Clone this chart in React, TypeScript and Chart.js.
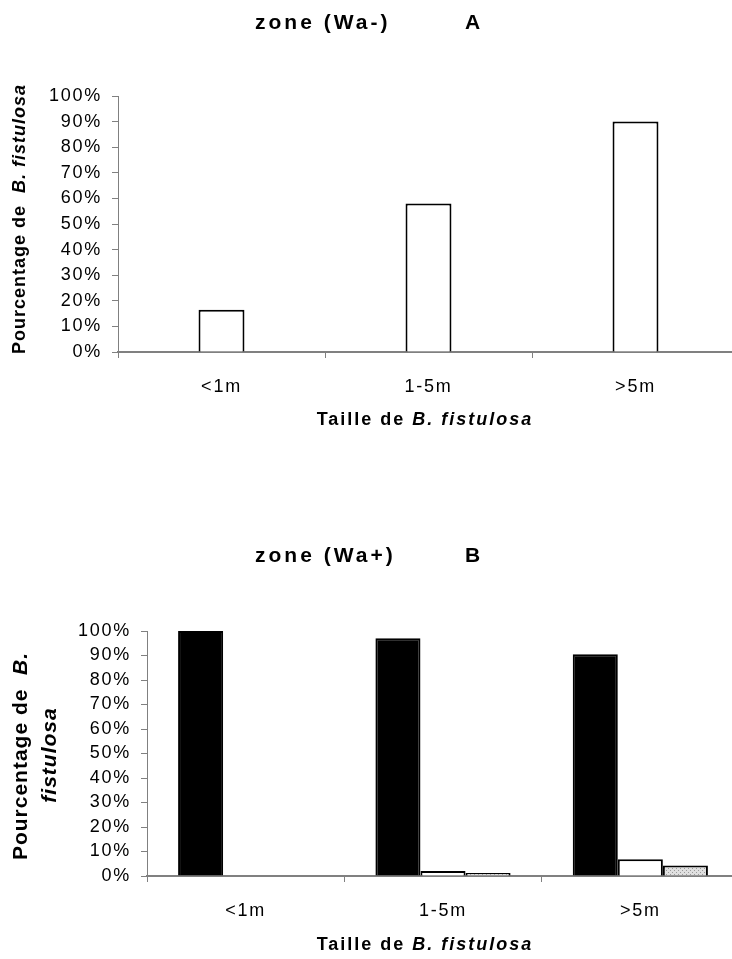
import React, { useEffect, useRef } from 'react';
import { Chart, registerables } from 'chart.js';

Chart.register(...registerables);

// ---------- data ----------
const categories = ['<1m', '1-5m', '>5m'];
const valuesA = [16.5, 58, 90];
const valuesB_black = [100, 97, 90.5];
const valuesB_white = [0, 2, 6.8];
const valuesB_dotted = [0, 1.2, 4.3];
const yTickValues = [0, 10, 20, 30, 40, 50, 60, 70, 80, 90, 100];
const yTickLabels = ['0%', '10%', '20%', '30%', '40%', '50%', '60%', '70%', '80%', '90%', '100%'];

const titleA = 'zone (Wa-)';
const letterA = 'A';
const titleB = 'zone (Wa+)';
const letterB = 'B';

const FAMILY = '"Liberation Sans", Arial, Helvetica, sans-serif';
Chart.defaults.font.family = FAMILY;

type Part = { text: string; font: string };
type TextItem = { parts: Part[]; x: number; y: number; rotate?: boolean; align?: 'center' | 'left'; ls?: string };

function drawItems(ctx: CanvasRenderingContext2D, items: TextItem[]) {
  items.forEach((it) => {
    ctx.save();
    (ctx as any).letterSpacing = it.ls || '0px';
    ctx.translate(it.x, it.y);
    if (it.rotate) ctx.rotate(-Math.PI / 2);
    ctx.textBaseline = 'middle';
    ctx.textAlign = 'left';
    ctx.fillStyle = '#000';
    let total = 0;
    it.parts.forEach((p) => {
      ctx.font = p.font;
      total += ctx.measureText(p.text).width;
    });
    let cx = it.align === 'left' ? 0 : -total / 2;
    it.parts.forEach((p) => {
      ctx.font = p.font;
      ctx.fillText(p.text, cx, 0);
      cx += ctx.measureText(p.text).width;
    });
    ctx.restore();
  });
}

function dottedPattern(): CanvasPattern | string {
  const c = document.createElement('canvas');
  c.width = 4;
  c.height = 4;
  const g = c.getContext('2d');
  if (!g) return '#c8c8c8';
  g.fillStyle = '#e0e0e0';
  g.fillRect(0, 0, 4, 4);
  g.fillStyle = '#9a9a9a';
  g.fillRect(0, 0, 1, 1);
  g.fillRect(2, 2, 1, 1);
  const p = g.createPattern(c, 'repeat');
  return p || '#c8c8c8';
}

const B = (s: number) => `bold ${s}px ${FAMILY}`;
const BI = (s: number) => `italic bold ${s}px ${FAMILY}`;
const TICK_FONT = { size: 18, family: FAMILY };
const TICK_SPACING = '1.75px';

function axes(yWidth: number, xHeight: number) {
  return {
    x: {
      grid: { offset: true, drawOnChartArea: false, drawTicks: true, tickLength: 6, color: '#808080', lineWidth: 1 },
      border: { display: true, color: '#808080', width: 2 },
      ticks: { padding: 18, color: '#000', font: TICK_FONT, maxRotation: 0, autoSkip: false },
      afterFit: (s: any) => {
        s.height = xHeight;
      },
    },
    y: {
      min: 0,
      max: 100,
      afterBuildTicks: (s: any) => {
        s.ticks = yTickValues.map((v) => ({ value: v }));
      },
      grid: { drawOnChartArea: false, drawTicks: true, tickLength: 6, color: '#808080', lineWidth: 1 },
      border: { display: true, color: '#808080', width: 1 },
      ticks: {
        padding: 10,
        autoSkip: false,
        color: '#000',
        font: TICK_FONT,
        callback: (v: any) => yTickLabels[yTickValues.indexOf(Number(v))] ?? '',
      },
      afterFit: (s: any) => {
        s.width = yWidth;
      },
    },
  };
}

function textPlugin(id: string, texts: TextItem[]) {
  return {
    id,
    beforeDraw: (c: any) => {
      c.ctx.letterSpacing = TICK_SPACING;
    },
    afterDraw: (c: any) => {
      drawItems(c.ctx, texts);
      c.ctx.letterSpacing = '0px';
    },
  };
}

function ChartA() {
  const ref = useRef<HTMLCanvasElement | null>(null);
  useEffect(() => {
    if (!ref.current) return;
    const texts: TextItem[] = [
      { parts: [{ text: titleA, font: B(21) }], x: 255, y: 23, align: 'left', ls: '3px' },
      { parts: [{ text: letterA, font: B(21) }], x: 465, y: 23, align: 'left', ls: '3px' },
      {
        parts: [
          { text: 'Pourcentage de  ', font: B(18) },
          { text: 'B. fistulosa', font: BI(18) },
        ],
        x: 20,
        y: 219,
        rotate: true,
        ls: '1px',
      },
      {
        parts: [
          { text: 'Taille de ', font: B(18) },
          { text: 'B. fistulosa', font: BI(18) },
        ],
        x: 425,
        y: 420,
        ls: '2px',
      },
    ];
    const chart = new Chart(ref.current, {
      type: 'bar',
      data: {
        labels: categories,
        datasets: [
          {
            data: valuesA,
            backgroundColor: '#ffffff',
            borderColor: '#000000',
            borderWidth: 2,
            categoryPercentage: 1,
            barPercentage: 0.222,
          },
        ],
      },
      options: {
        responsive: false,
        animation: false,
        layout: { padding: { top: 96, right: 6, left: 0, bottom: 0 } },
        plugins: { legend: { display: false }, tooltip: { enabled: false }, title: { display: false } },
        scales: axes(118, 128) as any,
      },
      plugins: [textPlugin('textsA', texts)],
    });
    return () => chart.destroy();
  }, []);
  return (
    <canvas
      ref={ref}
      width={745}
      height={480}
      style={{ position: 'absolute', left: 0, top: 0, width: 745, height: 480 }}
    />
  );
}

function ChartB() {
  const ref = useRef<HTMLCanvasElement | null>(null);
  useEffect(() => {
    if (!ref.current) return;
    const texts: TextItem[] = [
      { parts: [{ text: titleB, font: B(21) }], x: 255, y: 76, align: 'left', ls: '3px' },
      { parts: [{ text: letterB, font: B(21) }], x: 465, y: 76, align: 'left', ls: '3px' },
      {
        parts: [
          { text: 'Pourcentage de  ', font: B(21) },
          { text: 'B.', font: BI(21) },
        ],
        x: 21,
        y: 276,
        rotate: true,
        ls: '1px',
      },
      { parts: [{ text: 'fistulosa', font: BI(21) }], x: 50, y: 275, rotate: true, ls: '1px' },
      {
        parts: [
          { text: 'Taille de ', font: B(18) },
          { text: 'B. fistulosa', font: BI(18) },
        ],
        x: 425,
        y: 465,
        ls: '2px',
      },
    ];
    const common = { borderColor: '#000000', borderWidth: 2, categoryPercentage: 0.685, barPercentage: 1 };
    const chart = new Chart(ref.current, {
      type: 'bar',
      data: {
        labels: categories,
        datasets: [
          { data: valuesB_black, backgroundColor: '#000000', ...common },
          { data: valuesB_white, backgroundColor: '#ffffff', ...common },
          { data: valuesB_dotted, backgroundColor: dottedPattern() as any, ...common },
        ],
      },
      options: {
        responsive: false,
        animation: false,
        layout: { padding: { top: 151, right: 6, left: 0, bottom: 0 } },
        plugins: { legend: { display: false }, tooltip: { enabled: false }, title: { display: false } },
        scales: axes(147, 83) as any,
      },
      plugins: [textPlugin('textsB', texts)],
    });
    return () => chart.destroy();
  }, []);
  return (
    <canvas
      ref={ref}
      width={745}
      height={479}
      style={{ position: 'absolute', left: 0, top: 480, width: 745, height: 479 }}
    />
  );
}

export default function App() {
  return (
    <div
      style={{
        position: 'absolute',
        left: 0,
        top: 0,
        width: 732,
        height: 959,
        overflow: 'hidden',
        background: '#ffffff',
      }}
    >
      <ChartA />
      <ChartB />
    </div>
  );
}
